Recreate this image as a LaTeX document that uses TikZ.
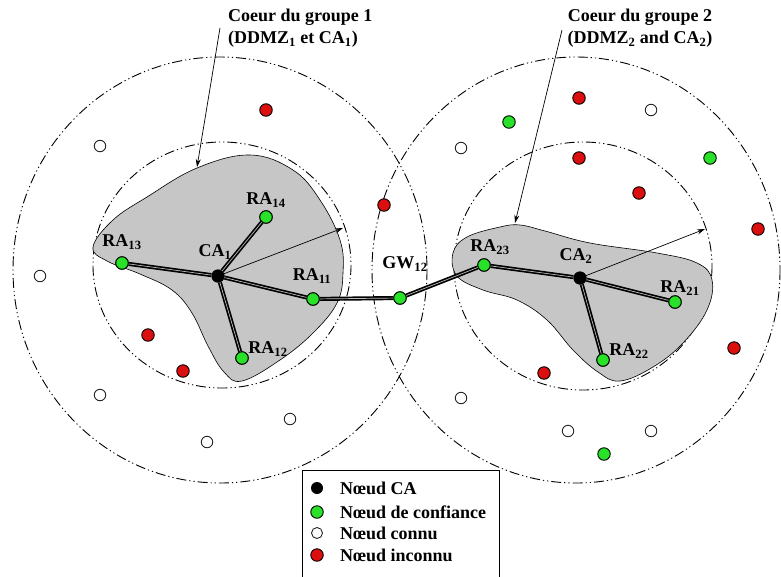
\documentclass[tikz,border=0pt]{standalone}
\usepackage{fontspec}
\setmainfont{Liberation Serif}
\usetikzlibrary{arrows.meta}

\definecolor{nodegreen}{RGB}{40,225,40}
\definecolor{nodered}{RGB}{220,15,15}

\tikzset{
  zone/.style={line width=0.9pt, dash pattern=on 10pt off 3pt on 1.2pt off 3pt on 1.2pt off 3pt},
  core/.style={draw=black, line width=0.6pt, fill=gray!45},
  pnode/.style={circle, draw=black, line width=0.9pt, minimum size=12.5pt, inner sep=0pt},
  trusted/.style={pnode, fill=nodegreen},
  unknown/.style={pnode, fill=nodered},
  known/.style={pnode, draw=black!85, minimum size=11.5pt, fill=white},
  canode/.style={circle, fill=black, minimum size=13pt, inner sep=0pt},
  link/.style={line width=1.7pt, double=gray!55, double distance=0.7pt},
  pointer/.style={-{Stealth[length=8pt, width=5pt]}, line width=0.7pt},
  lbl/.style={font=\fontsize{18}{22}\selectfont\bfseries, inner sep=0pt}
}

\begin{document}
\begin{tikzpicture}[x=1pt, y=-1pt]
\clip (0,0) rectangle (781,576);
\fill[white] (0,0) rectangle (781,576);

% zones of the two groups
\draw[zone] (220,270) ellipse [x radius=207, y radius=213];
\draw[zone] (576,270) ellipse [x radius=204, y radius=213];
\draw[zone] (222,265) ellipse [x radius=129, y radius=123];
\draw[zone] (583,266) ellipse [x radius=129, y radius=124];

% cores
\draw[core] plot[smooth cycle, tension=0.65] coordinates {
  (93,247) (113,220) (147,197) (197,168) (250,155) (293,170) (320,200)
  (340,240) (343,273) (337,303) (313,333) (280,360) (242,381) (224,372)
  (208,346) (192,313) (172,290) (140,274) (107,261)};
\draw[core] plot[smooth cycle, tension=0.65] coordinates {
  (453,253) (467,237) (500,227) (520,225) (545,231) (590,243) (657,253)
  (697,263) (712,280) (707,310) (683,343) (653,367) (620,381) (598,372)
  (573,350) (547,320) (517,300) (483,290) (457,276)};

% group 1
\node[canode] (ca1) at (218,276) {};
\node[trusted] (ra11) at (313,299) {};
\node[trusted] (ra12) at (242,358) {};
\node[trusted] (ra13) at (122,263) {};
\node[trusted] (ra14) at (266,217) {};
\node[trusted] (gw12) at (400,298) {};

% group 2
\node[canode] (ca2) at (580,278) {};
\node[trusted] (ra21) at (675,302) {};
\node[trusted] (ra22) at (603,360) {};
\node[trusted] (ra23) at (484,265) {};

% links
\draw[link] (ca1) -- (ra13);
\draw[link] (ca1) -- (ra14);
\draw[link] (ca1) -- (ra11);
\draw[link] (ca1) -- (ra12);
\draw[link] (ra11) -- (gw12);
\draw[link] (gw12) -- (ra23);
\draw[link] (ra23) -- (ca2);
\draw[link] (ca2) -- (ra21);
\draw[link] (ca2) -- (ra22);

% radius arrows
\coordinate (r1) at (343,228);
\coordinate (r2) at (705,229);
\draw[pointer] (ca1.center) -- (r1);
\draw[pointer] (ca2.center) -- (r2);

% redraw the nodes on top of the links
\foreach \n in {ra11,ra12,ra13,ra14,gw12,ra21,ra22,ra23}
  \node[trusted] at (\n) {};
\node[canode] at (ca1) {};
\node[canode] at (ca2) {};

% labels
\node[lbl] (l-ca1) at (215,252) {CA\textsubscript{1}};
\node[lbl] (l-ra11) at (312,276) {RA\textsubscript{11}};
\node[lbl] (l-ra12) at (268,349) {RA\textsubscript{12}};
\node[lbl] (l-ra13) at (122,242) {RA\textsubscript{13}};
\node[lbl] (l-ra14) at (266,200) {RA\textsubscript{14}};
\node[lbl] (l-gw12) at (405,264) {GW\textsubscript{12}};
\node[lbl] (l-ca2) at (576,256) {CA\textsubscript{2}};
\node[lbl] (l-ra21) at (680,288) {RA\textsubscript{21}};
\node[lbl] (l-ra22) at (629,351) {RA\textsubscript{22}};
\node[lbl] (l-ra23) at (490,247) {RA\textsubscript{23}};

% other nodes, group 1
\node[unknown] (u1) at (266,110) {};
\node[unknown] (u2) at (384,205) {};
\node[unknown] (u3) at (148,335) {};
\node[unknown] (u4) at (183,371) {};
\node[known] (k1) at (100,146) {};
\node[known] (k2) at (40,276) {};
\node[known] (k3) at (100,395) {};
\node[known] (k4) at (207,442) {};
\node[known] (k5) at (290,419) {};

% other nodes, group 2
\node[trusted] (t1) at (509,122) {};
\node[trusted] (t2) at (710,158) {};
\node[trusted] (t3) at (604,454) {};
\node[unknown] (u5) at (579,98) {};
\node[unknown] (u6) at (579,158) {};
\node[unknown] (u7) at (639,193) {};
\node[unknown] (u8) at (758,229) {};
\node[unknown] (u9) at (734,348) {};
\node[unknown] (u10) at (544,373) {};
\node[known] (k6) at (651,110) {};
\node[known] (k7) at (461,148) {};
\node[known] (k8) at (461,398) {};
\node[known] (k9) at (568,431) {};
\node[known] (k10) at (651,431) {};

% core captions
\node[lbl, align=left, anchor=north west] (cap1) at (228,9) {Coeur du groupe 1\\(DDMZ\textsubscript{1} et CA\textsubscript{1})};
\node[lbl, align=center, anchor=north] (cap2) at (640,9) {Coeur du groupe 2\\(DDMZ\textsubscript{2} and CA\textsubscript{2})};
\coordinate (c1a) at (220,28);
\coordinate (c1b) at (197,167);
\coordinate (c2a) at (562,30);
\coordinate (c2b) at (515,223);
\draw[pointer] (c1a) -- (c1b);
\draw[pointer] (c2a) -- (c2b);

% legend
\draw[line width=1pt, fill=white] (302,470) rectangle (499,590);
\node[canode, minimum size=12pt] (lg1) at (317,488) {};
\node[trusted] (lg2) at (317,512) {};
\node[known, minimum size=11pt] (lg3) at (317,533) {};
\node[unknown] (lg4) at (317,555) {};
\node[lbl, anchor=west] at (340,488) {Nœud CA};
\node[lbl, anchor=west] at (340,512) {Nœud de confiance};
\node[lbl, anchor=west] at (340,533) {Nœud connu};
\node[lbl, anchor=west] at (340,555) {Nœud inconnu};
\end{tikzpicture}
\end{document}
